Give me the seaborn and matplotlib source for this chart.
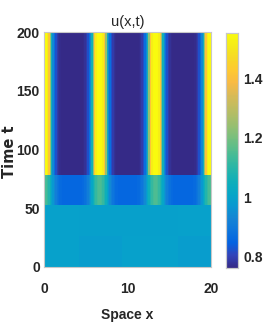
import numpy as np
import matplotlib
matplotlib.use("Agg")
import matplotlib.pyplot as plt
import seaborn as sns
from matplotlib.colors import LinearSegmentedColormap

# ---------------- data ----------------
x_ticks = [0, 10, 20]
t_ticks = [0, 50, 100, 150, 200]
cbar_ticks = [0.8, 1.0, 1.2, 1.4]
cbar_ticklabels = ["0.8", "1", "1.2", "1.4"]

# half-period profile of u vs distance from a stripe centre (cells of 1/6 unit)
late_profile = [1.555, 1.55, 1.52, 1.42, 1.24, 1.06, 0.94, 0.87, 0.82, 0.79,
                0.775, 0.765, 0.76, 0.76, 0.76, 0.76, 0.76, 0.76, 0.76, 0.76]
mid_profile = [1.15, 1.14, 1.12, 1.09, 1.05, 1.01, 0.97, 0.94, 0.91, 0.89,
               0.875, 0.865, 0.86, 0.855, 0.855, 0.855, 0.855, 0.855, 0.855, 0.855]
# early (nearly uniform) state, in coarse x blocks
early_block_edges = [0, 4.2, 9.4, 16.0, 20]
early_low = [0.995, 0.985, 0.995, 0.985]
early_high = [0.995, 0.99, 0.99, 0.995]
band_edges_t = [0, 26, 53, 78, 200]

vmin, vmax = 0.76, 1.555

# ---------------- build field ----------------
nx_per_unit = 6
nx = 20 * nx_per_unit
half = len(late_profile)
xc = (np.arange(nx) + 0.5) / nx_per_unit
k = np.arange(nx) % (2 * half)
j = np.where(k < half, k, 2 * half - 1 - k)
late_row = np.array(late_profile)[j]
mid_row = np.array(mid_profile)[j]
blk = np.clip(np.searchsorted(early_block_edges, xc, side="right") - 1, 0, len(early_low) - 1)
low_row = np.array(early_low)[blk]
high_row = np.array(early_high)[blk]

nt = 200
tc = np.arange(nt) + 0.5
rows = []
for t in tc:
    if t < band_edges_t[1]:
        rows.append(low_row)
    elif t < band_edges_t[2]:
        rows.append(high_row)
    elif t < band_edges_t[3]:
        rows.append(mid_row)
    else:
        rows.append(late_row)
Z = np.array(rows)

# ---------------- parula colormap ----------------
parula_pts = [
    (0.2081, 0.1663, 0.5292), (0.1959, 0.2645, 0.7279), (0.0117, 0.3875, 0.8820),
    (0.0498, 0.4586, 0.8641), (0.0793, 0.5200, 0.8312), (0.0343, 0.5966, 0.8199),
    (0.0228, 0.6535, 0.7768), (0.0590, 0.6838, 0.7254), (0.1453, 0.7098, 0.6646),
    (0.2586, 0.7317, 0.5954), (0.3953, 0.7459, 0.5244), (0.5300, 0.7491, 0.4661),
    (0.6473, 0.7456, 0.4188), (0.7525, 0.7384, 0.3768), (0.8507, 0.7299, 0.3360),
    (0.9739, 0.7314, 0.2666), (0.9955, 0.7861, 0.1967), (0.9697, 0.8481, 0.1475),
    (0.9598, 0.9218, 0.0948), (0.9763, 0.9831, 0.0538)]
parula = LinearSegmentedColormap.from_list("parula", parula_pts, N=256)

# ---------------- plot ----------------
sns.set_theme(style="white")
plt.rcParams["font.family"] = ["Liberation Sans", "DejaVu Sans"]

W, H = 273, 327
fig = plt.figure(figsize=(W / 100, H / 100), dpi=100)
ax = fig.add_axes([44 / W, 1 - 267 / H, 167 / W, 235 / H])
cax = fig.add_axes([226 / W, 1 - 268 / H, 12 / W, 235 / H])

sns.heatmap(Z, ax=ax, cmap=parula, vmin=vmin, vmax=vmax, cbar_ax=cax,
            xticklabels=False, yticklabels=False)
ax.invert_yaxis()

ax.set_xticks([v * nx_per_unit for v in x_ticks])
ax.set_xticklabels([str(v) for v in x_ticks])
ax.set_yticks([v * nt / 200 for v in t_ticks])
ax.set_yticklabels([str(v) for v in t_ticks])
for lab in ax.get_xticklabels() + ax.get_yticklabels():
    lab.set_fontweight("bold")
    lab.set_fontsize(10)
    lab.set_rotation(0)
ax.tick_params(axis="x", length=0, pad=11)
ax.tick_params(axis="y", length=0, pad=3)

for s in ax.spines.values():
    s.set_visible(True)
    s.set_color("#c8c8c8")
    s.set_linewidth(0.8)

ax.set_title("u(x,t)", fontsize=10.5, pad=4)
ax.set_xlabel("Space x", fontsize=10, fontweight="bold", va="center")
ax.xaxis.set_label_coords(0.5, (267 - 315) / 235)
ax.set_ylabel("Time t", fontsize=10.5, fontweight="bold", va="center",
              family=["DejaVu Sans"])
ax.yaxis.set_label_coords((10 - 44) / 167, 0.49)

cax.set_yticks(cbar_ticks)
cax.set_yticklabels(cbar_ticklabels)
for lab in cax.get_yticklabels():
    lab.set_fontweight("bold")
    lab.set_fontsize(10)
cax.tick_params(axis="y", length=2, direction="in", pad=4, width=0.6, color="#444444")
for s in cax.spines.values():
    s.set_visible(True)
    s.set_color("#c8c8c8")
    s.set_linewidth(0.8)

fig.savefig("out.png", dpi=100)
